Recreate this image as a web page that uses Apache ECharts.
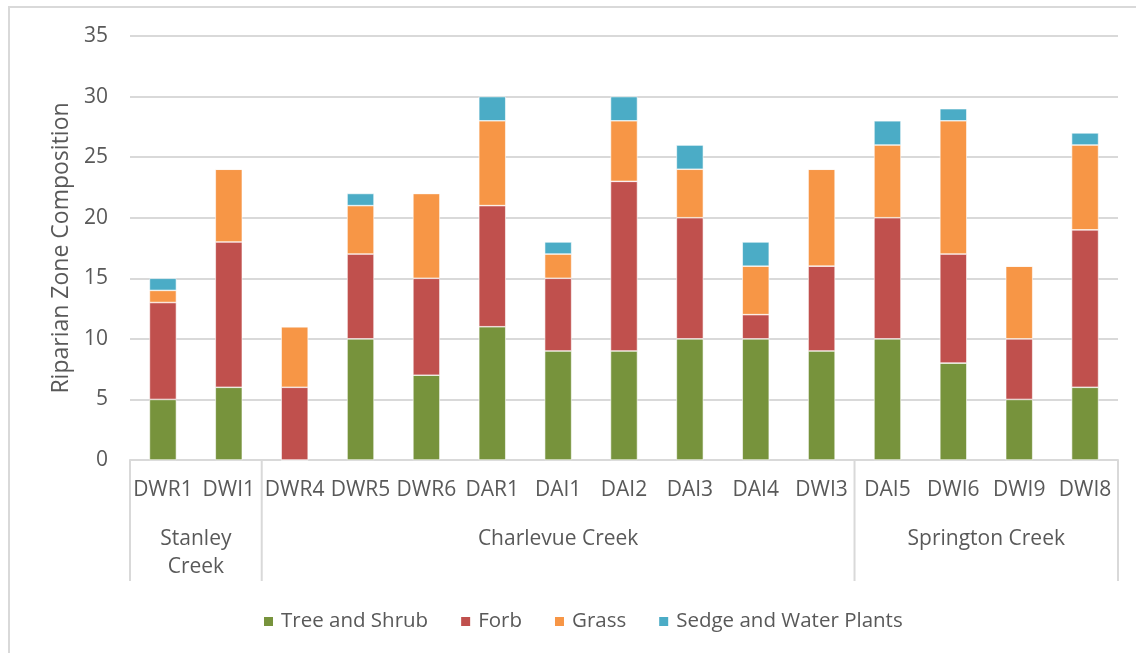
<!DOCTYPE html>
<html>
<head>
<meta charset="utf-8">
<script src="https://cdn.jsdelivr.net/npm/echarts@6/dist/echarts.min.js"></script>
<style>
  html, body { margin: 0; padding: 0; background: #fff; }
  #chart { width: 1136px; height: 653px; }
</style>
</head>
<body>
<div id="chart"></div>
<script>
// Sampling sites, in order along the x axis
const sites = ['DWR1', 'DWI1', 'DWR4', 'DWR5', 'DWR6', 'DAR1', 'DAI1', 'DAI2', 'DAI3', 'DAI4', 'DWI3', 'DAI5', 'DWI6', 'DWI9', 'DWI8'];
// Creek groups: names and how many consecutive sites belong to each
const creekNames = ['Stanley\nCreek', 'Charlevue Creek', 'Springton Creek'];
const creekSizes = [2, 9, 4];

// Riparian zone composition by vegetation class
const treeShrub = [5, 6, 0, 10, 7, 11, 9, 9, 10, 10, 9, 10, 8, 5, 6];
const forb      = [8, 12, 6, 7, 8, 10, 6, 14, 10, 2, 7, 10, 9, 5, 13];
const grass     = [1, 6, 5, 4, 7, 7, 2, 5, 4, 4, 8, 6, 11, 6, 7];
const sedge     = [1, 0, 0, 1, 0, 2, 1, 2, 2, 2, 0, 2, 1, 0, 1];

const yTicks = { min: 0, max: 35, interval: 5 };

const FONT = '"Open Sans", "Noto Sans", sans-serif';
const TEXT = '#595959';
const LINE = '#D9D9D9';

const chart = echarts.init(document.getElementById('chart'), null, { renderer: 'canvas' });

function barSeries(name, data, color) {
  return {
    name: name,
    type: 'bar',
    stack: 'total',
    barWidth: 27,
    data: data,
    itemStyle: { color: color, borderColor: '#ffffff', borderWidth: 0.6 },
    emphasis: { disabled: true }
  };
}

const option = {
  animation: false,
  backgroundColor: '#ffffff',
  grid: { left: 130, right: 18, top: 36, bottom: 193, containLabel: false },
  legend: {
    left: 257,
    top: 606,
    icon: 'rect',
    itemWidth: 11,
    itemHeight: 11,
    itemGap: 31,
    textStyle: { fontFamily: FONT, fontSize: 20.5, color: TEXT, padding: [0, 0, 0, 2] },
    data: ['Tree and Shrub', 'Forb', 'Grass', 'Sedge and Water Plants']
  },
  xAxis: {
    type: 'category',
    data: sites,
    axisLine: { show: true, lineStyle: { color: LINE, width: 2 } },
    axisTick: { show: false },
    axisLabel: { interval: 0, fontFamily: FONT, fontSize: 21, color: TEXT, margin: 20 },
    splitLine: { show: false }
  },
  yAxis: {
    type: 'value',
    min: yTicks.min,
    max: yTicks.max,
    interval: yTicks.interval,
    name: 'Riparian Zone Composition',
    nameLocation: 'middle',
    nameRotate: 90,
    nameGap: 57,
    nameTextStyle: { fontFamily: FONT, fontSize: 23, color: TEXT },
    axisLine: { show: false },
    axisTick: { show: false },
    axisLabel: { fontFamily: FONT, fontSize: 21, color: TEXT, margin: 22 },
    splitLine: { lineStyle: { color: LINE, width: 2 } }
  },
  series: [
    barSeries('Tree and Shrub', treeShrub, '#77933C'),
    barSeries('Forb', forb, '#C0504D'),
    barSeries('Grass', grass, '#F79646'),
    barSeries('Sedge and Water Plants', sedge, '#4BACC6')
  ]
};

chart.setOption(option);

// Second level of the category axis: creek group labels and separators,
// placed from the category scale of the x axis.
function drawGroups() {
  const c0 = chart.convertToPixel({ xAxisIndex: 0 }, sites[0]);
  const c1 = chart.convertToPixel({ xAxisIndex: 0 }, sites[1]);
  const band = c1 - c0;
  const axisY = chart.convertToPixel({ yAxisIndex: 0 }, 0);
  const lineBottom = axisY + 121;
  const elements = [];

  // frame around the chart area
  elements.push({
    type: 'rect',
    shape: { x: 9, y: 7, width: 1160, height: 700 },
    style: { fill: null, stroke: LINE, lineWidth: 2 },
    silent: true
  });

  let start = 0;
  const edges = [c0 - band / 2];
  creekNames.forEach((name, i) => {
    const end = start + creekSizes[i];
    const left = c0 - band / 2 + start * band;
    const right = c0 - band / 2 + end * band;
    edges.push(right);
    elements.push({
      type: 'text',
      x: (left + right) / 2,
      y: axisY + 65,
      style: {
        text: name,
        fontFamily: FONT,
        fontSize: 21,
        fill: TEXT,
        align: 'center',
        verticalAlign: 'top',
        lineHeight: 28
      },
      silent: true
    });
    start = end;
  });
  edges.forEach(x => {
    elements.push({
      type: 'line',
      shape: { x1: x, y1: axisY, x2: x, y2: lineBottom },
      style: { stroke: LINE, lineWidth: 2 },
      silent: true
    });
  });
  chart.setOption({ graphic: elements });
}
drawGroups();
</script>
</body>
</html>
